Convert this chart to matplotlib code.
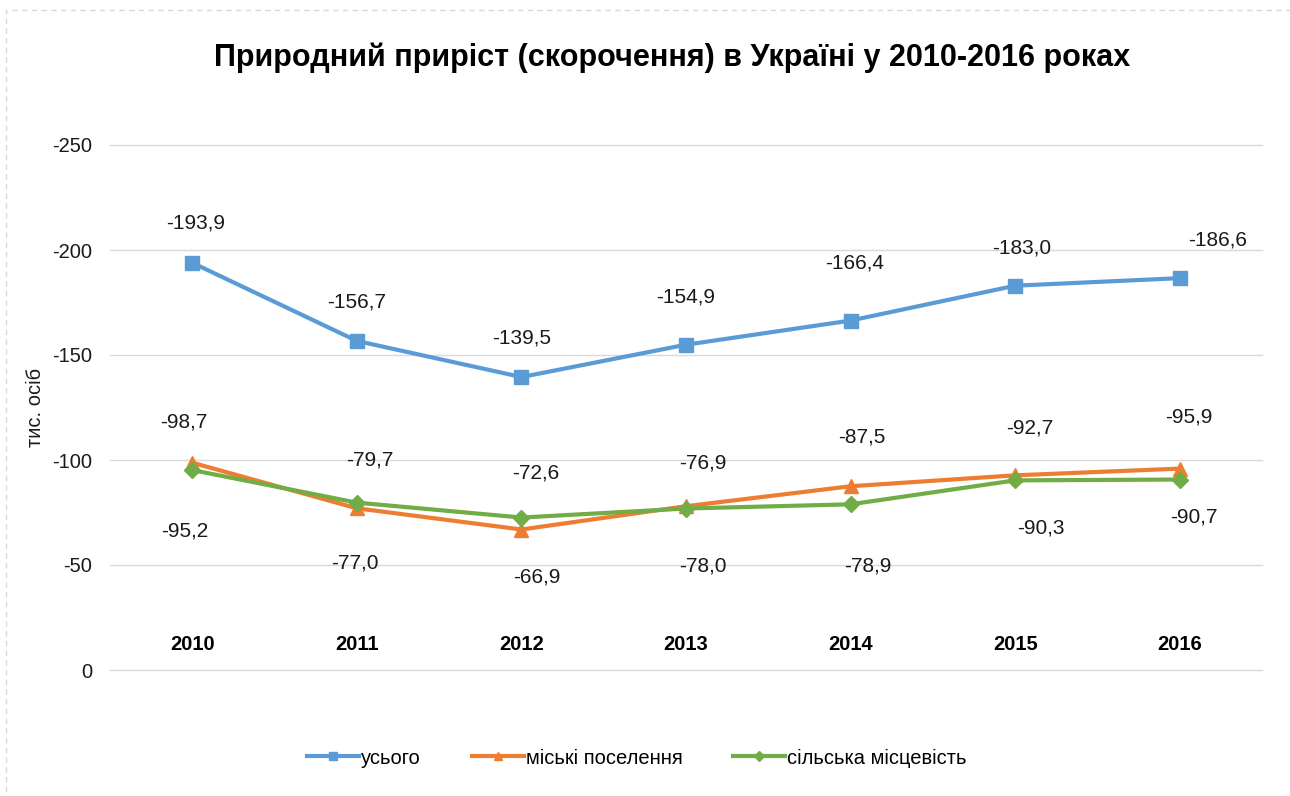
import matplotlib.pyplot as plt
from matplotlib.patches import Rectangle

plt.rcParams['font.family'] = ['Liberation Sans', 'DejaVu Sans']

# дані
years = ['2010', '2011', '2012', '2013', '2014', '2015', '2016']
total = [-193.9, -156.7, -139.5, -154.9, -166.4, -183.0, -186.6]
urban = [-98.7, -77.0, -66.9, -78.0, -87.5, -92.7, -95.9]
rural = [-95.2, -79.7, -72.6, -76.9, -78.9, -90.3, -90.7]
names = ['усього', 'міські поселення', 'сільська місцевість']
title = 'Природний приріст (скорочення) в Україні у 2010-2016 роках'
y_ticks = [0, -50, -100, -150, -200, -250]

# зсуви підписів (пікселі)
off_total = [(3, 40), (0, 39), (0, 39), (0, 48), (4, 58), (7, 38), (38, 38)]
off_urban = [(-8, 41), (-2, -55), (15, -47), (17, -60), (11, 49), (15, 47), (9, 52)]
off_rural = [(-8, -61), (13, 43), (14, 45), (17, 46), (17, -62), (26, -48), (14, -37)]

blue = '#5B9BD5'
orange = '#ED7D31'
green = '#70AD47'
txt = '#1a1a1a'

fig = plt.figure(figsize=(12.9, 7.96), dpi=100)
ax = fig.add_axes([110/1290, 1-670/796, 1152/1290, 525/796])

# рамка
fig.patches.append(Rectangle((6/1290, -0.05), 1.1, 1-10/796+0.05, transform=fig.transFigure,
                             fill=False, edgecolor='#D9D9D9', linestyle=(0, (4, 3)), linewidth=1.0))

x = list(range(len(years)))
ax.plot(x, total, color=blue, lw=3, marker='s', ms=10, label=names[0], zorder=3)
ax.plot(x, urban, color=orange, lw=3, marker='^', ms=10, label=names[1], zorder=3)
ax.plot(x, rural, color=green, lw=3, marker='D', ms=8, label=names[2], zorder=4)


def labels(vals, offs):
    for i, v in enumerate(vals):
        ax.annotate(f'{v:.1f}'.replace('.', ','), (i, v), xytext=offs[i], textcoords='offset pixels',
                    ha='center', va='center', fontsize=15, color=txt)


labels(total, off_total)
labels(urban, off_urban)
labels(rural, off_rural)

ax.set_xlim(-0.5, 6.5)
ax.set_ylim(0, -250)
ax.set_yticks(y_ticks)
ax.set_yticklabels([str(t) for t in y_ticks])
ax.yaxis.grid(True, color='#D9D9D9', lw=1)
for gl in ax.get_ygridlines():
    gl.set_clip_on(False)
ax.set_axisbelow(True)
for s in ax.spines.values():
    s.set_visible(False)
ax.tick_params(axis='y', length=0, pad=13, labelsize=14.5, labelcolor=txt)
ax.set_xticks(x)
ax.set_xticklabels(years, fontweight='bold', fontsize=14.5)
ax.tick_params(axis='x', length=0, pad=-25)
ax.set_ylabel('тис. осіб', fontsize=14.5, labelpad=5, color=txt)

fig.text(672/1290, 1-58/796, title, ha='center', va='center', fontsize=22, fontweight='bold')

fig.legend(loc='center', bbox_to_anchor=(637/1290, 1-758/796), ncol=3, frameon=False, fontsize=14.5,
           handlelength=2.6, handletextpad=0.1, columnspacing=2.5, markerscale=0.6)

fig.savefig('out.png', dpi=100)
